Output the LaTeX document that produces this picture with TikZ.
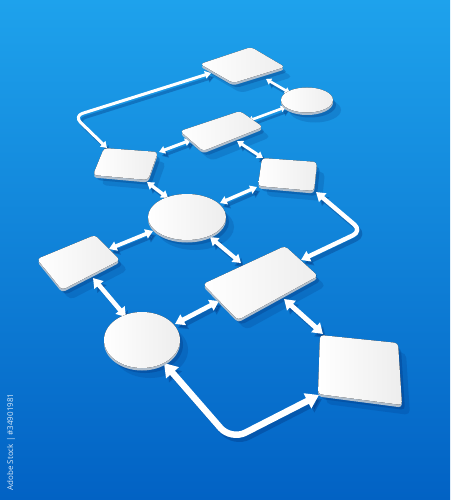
\documentclass[tikz,border=0pt]{standalone}
\usepackage{fontspec}
\setsansfont{Open Sans}
\usetikzlibrary{arrows.meta}
\pgfdeclarelayer{background}
\pgfdeclarelayer{shadows}
\pgfsetlayers{background,shadows,main}
\definecolor{bgtop}{RGB}{30,162,236}
\definecolor{bgbot}{RGB}{2,98,196}
\definecolor{shd}{RGB}{0,40,110}
\definecolor{sidec}{RGB}{175,190,205}
\tikzset{
  plateface/.style={left color=white, right color=black!7, rounded corners=3.5pt},
  connst/.style={draw=white, line cap=butt, line join=round,
    {Triangle[length=0pt 2, width=0pt 2.5]}-{Triangle[length=0pt 2, width=0pt 2.5]}},
  idtext/.style={text=white, opacity=.85, rotate=90, font=\sffamily\fontsize{8}{9}\selectfont}
}
\newcommand\plateQ[4]{%
  \begin{pgfonlayer}{shadows}
    \fill[shd, opacity=.16, rounded corners=5pt, shift={(8,10)}] #1--#2--#3--#4--cycle;
    \fill[shd, opacity=.26, rounded corners=4pt, shift={(3,5)}] #1--#2--#3--#4--cycle;
  \end{pgfonlayer}
  \fill[sidec, rounded corners=3.5pt, shift={(0,2.5)}] #1--#2--#3--#4--cycle;
  \fill[plateface] #1--#2--#3--#4--cycle;}
\newcommand\plateE[3]{%
  \begin{pgfonlayer}{shadows}
    \fill[shd, opacity=.16, shift={(8,10)}] #1 ellipse [x radius=#2pt, y radius=#3pt];
    \fill[shd, opacity=.26, shift={(3,5)}] #1 ellipse [x radius=#2pt, y radius=#3pt];
  \end{pgfonlayer}
  \fill[sidec, shift={(0,2.5)}] #1 ellipse [x radius=#2pt, y radius=#3pt];
  \fill[plateface] #1 ellipse [x radius=#2pt, y radius=#3pt];}
\newcommand\connect[2]{%
  \begin{pgfonlayer}{shadows}
    \draw[connst, draw=shd, opacity=.3, line width=#1, transform canvas={xshift=3pt,yshift=-4pt}] #2;
  \end{pgfonlayer}
  \draw[connst, line width=#1] #2;}
\begin{document}
\begin{tikzpicture}[x=1pt,y=-1pt]
\begin{pgfonlayer}{background}
  \shade[top color=bgtop, bottom color=bgbot] (0,0) rectangle (450,500);
\end{pgfonlayer}
\useasboundingbox (0,0) rectangle (450,500);

% connector end points
\coordinate (a1s) at (266,79);  \coordinate (a1e) at (290,93);
\coordinate (a2s) at (286,107); \coordinate (a2e) at (248,121);
\coordinate (a3s) at (211,73);  \coordinate (a3m) at (74,116); \coordinate (a3e) at (107,148);
\coordinate (a4s) at (191,140); \coordinate (a4e) at (159,152);
\coordinate (a5s) at (237,141); \coordinate (a5e) at (263,158);
\coordinate (a6s) at (147,182); \coordinate (a6e) at (168,198);
\coordinate (a7s) at (257,187); \coordinate (a7e) at (220,203);
\coordinate (a8s) at (316,192); \coordinate (a8m) at (362,231); \coordinate (a8e) at (301,260);
\coordinate (a9s) at (153,231); \coordinate (a9e) at (109,249);
\coordinate (a10s) at (210,237); \coordinate (a10e) at (241,263);
\coordinate (a11s) at (93,278); \coordinate (a11e) at (126,317);
\coordinate (a12s) at (219,301); \coordinate (a12e) at (175,324);
\coordinate (a13s) at (284,299); \coordinate (a13e) at (323,334);
\coordinate (a14s) at (164,363); \coordinate (a14m) at (231,440); \coordinate (a14e) at (319,395);

% connectors
\connect{2.6pt}{(a1s) -- (a1e)}
\connect{2.6pt}{(a2s) -- (a2e)}
\connect{3pt}{(a3s) [rounded corners=9pt] -- (a3m) -- (a3e)}
\connect{3pt}{(a4s) -- (a4e)}
\connect{3pt}{(a5s) -- (a5e)}
\connect{3.4pt}{(a6s) -- (a6e)}
\connect{3.4pt}{(a7s) -- (a7e)}
\connect{4.4pt}{(a8s) [rounded corners=10pt] -- (a8m) -- (a8e)}
\connect{3.8pt}{(a9s) -- (a9e)}
\connect{4pt}{(a10s) -- (a10e)}
\connect{4.6pt}{(a11s) -- (a11e)}
\connect{4.6pt}{(a12s) -- (a12e)}
\connect{5pt}{(a13s) -- (a13e)}
\connect{6.5pt}{(a14s) [rounded corners=16pt] -- (a14m) -- (a14e)}

% plates
\plateQ{(200,64)}{(251,47)}{(285,67)}{(233,83)}
\plateE{(307,100)}{26}{12.5}
\plateQ{(180,131)}{(240,111)}{(263,127)}{(203,151)}
\plateQ{(93,175)}{(104,148)}{(158,152)}{(148,180)}
\plateQ{(262,158)}{(317,162)}{(314,191)}{(258,186)}
\plateE{(187,217)}{39}{23}
\plateQ{(37,259)}{(95,235)}{(120,260)}{(62,290)}
\plateQ{(203,284)}{(285,246)}{(318,276)}{(238,320)}
\plateE{(142,340)}{38}{28}
\plateQ{(320,335)}{(398,343)}{(402,405)}{(318,394)}

\node[idtext] (id) at (11,442) {Adobe Stock | \#34901981};
\end{tikzpicture}
\end{document}
